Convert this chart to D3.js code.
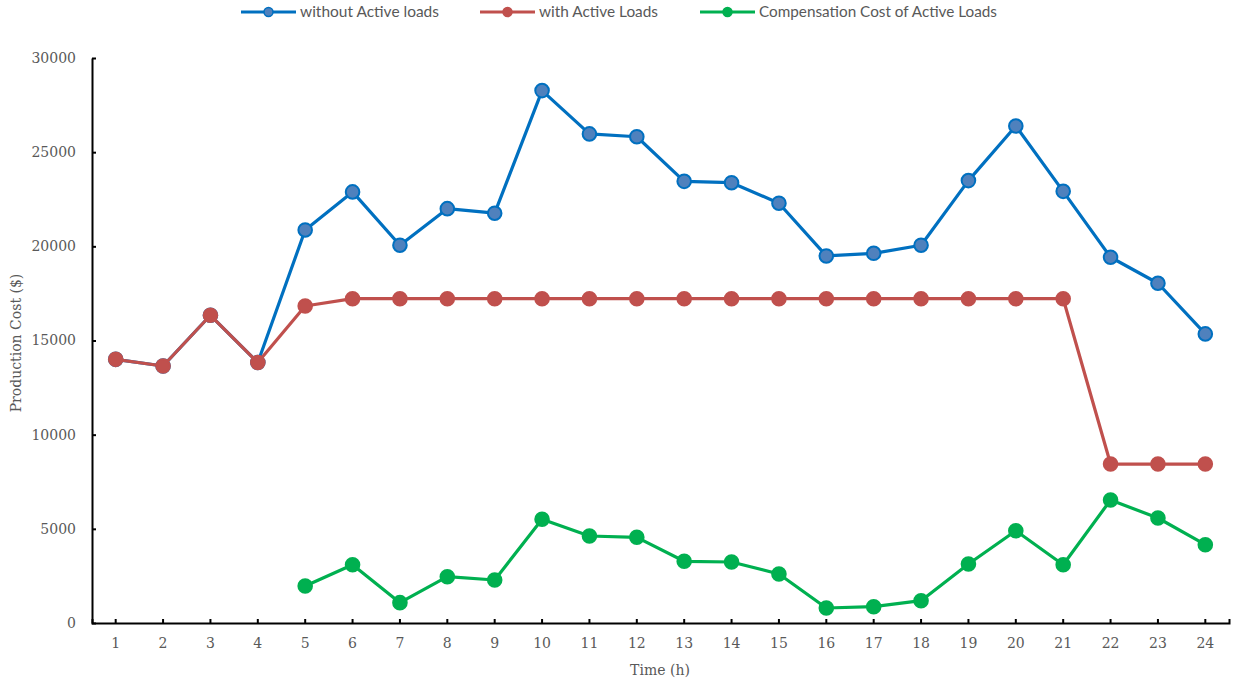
<!DOCTYPE html>
<html>
<head>
<meta charset="utf-8">
<script src="https://cdn.jsdelivr.net/npm/d3@7"></script>
<style>
  html, body { margin: 0; padding: 0; background: #fff; }
  svg { display: block; }
</style>
</head>
<body>
<svg id="chart" width="1234" height="686"></svg>
<script>
// Hourly production cost, with and without active loads, plus compensation cost
const hours = d3.range(1, 25);
const withoutActive = [14000, 13646, 16340, 13830, 20870, 22890, 20060, 22000, 21760, 28270,
  25970, 25820, 23450, 23380, 22290, 19490, 19630, 20060, 23490, 26390, 22920, 19420, 18040, 15350];
const withActive = [14000, 13646, 16340, 13830, 16830, 17220, 17220, 17220, 17220, 17220,
  17220, 17220, 17220, 17220, 17220, 17220, 17220, 17220, 17220, 17220, 17220, 8440, 8440, 8440];
const compensation = [null, null, null, null, 1965, 3096, 1080, 2458, 2283, 5506,
  4620, 4550, 3276, 3240, 2602, 796, 865, 1184, 3133, 4900, 3096, 6530, 5575, 4158];
const yTicks = [0, 5000, 10000, 15000, 20000, 25000, 30000];
const seriesNames = ["without Active loads", "with Active Loads", "Compensation Cost of Active Loads"];

const svg = d3.select("#chart");
const tickFont = "'DejaVu Serif', serif";
const legendFont = "Lato, 'Liberation Sans', sans-serif";
const gray = "#595959";

const x = d3.scaleBand().domain(hours).range([92, 1229]).padding(0);
const y = d3.scaleLinear().domain([0, 30000]).range([623, 58]);
const cx = h => x(h) + x.bandwidth() / 2;

// Axes
const yAxis = svg.append("g")
  .attr("transform", "translate(92,0)")
  .call(d3.axisLeft(y).tickValues(yTicks).tickSizeInner(-4).tickSizeOuter(0).tickPadding(16).tickFormat(d3.format("d")));
const xAxis = svg.append("g")
  .attr("transform", "translate(0,623)")
  .call(d3.axisBottom(x).tickSizeInner(-4).tickSizeOuter(-4).tickPadding(15));

[yAxis, xAxis].forEach(g => {
  g.select(".domain").attr("stroke", "#000").attr("stroke-width", 2);
  g.selectAll(".tick line").attr("stroke", "#000").attr("stroke-width", 2);
  g.selectAll(".tick text").attr("fill", gray).style("font-family", tickFont).style("font-size", "14px");
});

// Axis titles
svg.append("text")
  .attr("x", 660).attr("y", 675)
  .attr("text-anchor", "middle")
  .attr("fill", gray)
  .style("font-family", tickFont).style("font-size", "14px")
  .text("Time (h)");
svg.append("text")
  .attr("transform", "translate(21,343) rotate(-90)")
  .attr("text-anchor", "middle")
  .attr("fill", gray)
  .style("font-family", tickFont).style("font-size", "14px")
  .text("Production Cost ($)");

// Series
const series = [
  { name: seriesNames[0], values: withoutActive, line: "#0070C0", fill: "#4F81BD", stroke: "#0070C0" },
  { name: seriesNames[1], values: withActive, line: "#C0504D", fill: "#C0504D", stroke: "#C0504D" },
  { name: seriesNames[2], values: compensation, line: "#00B050", fill: "#00B050", stroke: "#00B050" }
];

const line = d3.line()
  .defined(d => d.v !== null)
  .x(d => cx(d.h))
  .y(d => y(d.v));

series.forEach(s => {
  const pts = hours.map((h, i) => ({ h, v: s.values[i] }));
  const g = svg.append("g");
  g.append("path")
    .datum(pts)
    .attr("fill", "none")
    .attr("stroke", s.line)
    .attr("stroke-width", 3.2)
    .attr("stroke-linejoin", "round")
    .attr("d", line);
  g.selectAll("circle")
    .data(pts.filter(d => d.v !== null))
    .join("circle")
    .attr("cx", d => cx(d.h))
    .attr("cy", d => y(d.v))
    .attr("r", 6.8)
    .attr("fill", s.fill)
    .attr("stroke", s.stroke)
    .attr("stroke-width", 2);
});

// Legend
const legendX = [241, 480, 700];
const legendW = [139, 119, 238];
const legend = svg.append("g");
series.forEach((s, i) => {
  const lg = legend.append("g").attr("transform", `translate(${legendX[i]},12)`);
  lg.append("line").attr("x1", 0).attr("x2", 55).attr("y1", 0).attr("y2", 0)
    .attr("stroke", s.line).attr("stroke-width", 3.2);
  lg.append("circle").attr("cx", 27.5).attr("cy", 0).attr("r", 4.5)
    .attr("fill", s.fill).attr("stroke", s.stroke).attr("stroke-width", 1.5);
  lg.append("text").attr("x", 59).attr("y", 0).attr("dy", "0.35em")
    .attr("fill", gray)
    .style("font-family", legendFont).style("font-size", "15px")
    .attr("textLength", legendW[i]).attr("lengthAdjust", "spacingAndGlyphs")
    .text(s.name);
});
</script>
</body>
</html>
